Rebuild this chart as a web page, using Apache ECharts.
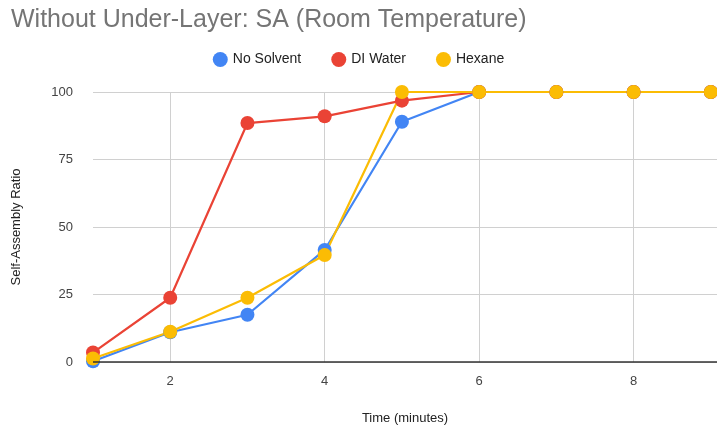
<!DOCTYPE html>
<html>
<head>
<meta charset="utf-8">
<script src="https://cdn.jsdelivr.net/npm/echarts@6/dist/echarts.min.js"></script>
<style>
  html, body { margin: 0; padding: 0; background: #fff; }
  #chart { width: 717px; height: 431px; }
</style>
</head>
<body>
<div id="chart"></div>
<script>
// Time in minutes
const minutes = [1, 2, 3, 4, 5, 6, 7, 8, 9];
// Self-assembly ratio per solvent condition
const noSolvent = [0.3, 11, 17.5, 41.5, 89, 100, 100, 100, 100];
const diWater = [3.5, 23.8, 88.5, 91, 96.8, 100, 100, 100, 100];
const hexane = [1.3, 11.2, 23.8, 39.6, 100, 100, 100, 100, 100];
const xTicks = [2, 4, 6, 8];
const yTicks = [0, 25, 50, 75, 100];

const pairs = (ys) => minutes.map((m, i) => [m, ys[i]]);
const font = 'Liberation Sans, Arial, sans-serif';

const makeSeries = (name, color, ys) => ({
  name, type: 'line', data: pairs(ys),
  symbol: 'circle', symbolSize: 14,
  lineStyle: { width: 2.2, color }, itemStyle: { color },
  emphasis: { disabled: true }, animation: false, clip: false
});

const chart = echarts.init(document.getElementById('chart'));
chart.setOption({
  animation: false,
  title: {
    text: 'Without Under-Layer: SA (Room Temperature)',
    left: 6, top: 3,
    textStyle: { fontFamily: font, fontSize: 25, fontWeight: 'normal', color: '#757575' }
  },
  legend: {
    top: 47, left: 'center',
    icon: 'circle', itemWidth: 15, itemHeight: 15, itemGap: 30,
    textStyle: { fontFamily: font, fontSize: 14, color: '#222' },
    data: ['No Solvent', 'DI Water', 'Hexane']
  },
  grid: { left: 93, right: 0, top: 92, bottom: 69, containLabel: false },
  xAxis: {
    type: 'value', min: 1, max: 9.08,
    name: 'Time (minutes)', nameLocation: 'middle', nameGap: 50,
    nameTextStyle: { fontFamily: font, fontSize: 13, color: '#222' },
    axisLine: { show: false },
    axisTick: { show: false, customValues: xTicks },
    axisLabel: { customValues: xTicks, margin: 13, fontFamily: font, fontSize: 13, color: '#444' },
    splitLine: { show: true, lineStyle: { color: '#d0d0d0', width: 1 } }
  },
  yAxis: {
    type: 'value', min: 0, max: 100, interval: 25,
    name: 'Self-Assembly Ratio', nameLocation: 'middle', nameGap: 70,
    nameTextStyle: { fontFamily: font, fontSize: 13, color: '#222' },
    axisLine: { show: false }, axisTick: { show: false },
    axisLabel: { margin: 20, fontFamily: font, fontSize: 13, color: '#444' },
    splitLine: { lineStyle: { color: '#d0d0d0', width: 1 } }
  },
  series: [
    makeSeries('No Solvent', '#4285f4', noSolvent),
    makeSeries('DI Water', '#ea4335', diWater),
    makeSeries('Hexane', '#fbbc04', hexane),
    {
      type: 'line', silent: true, data: [],
      markLine: {
        silent: true, symbol: 'none', label: { show: false },
        lineStyle: { color: '#333', width: 1.5, type: 'solid' },
        data: [{ yAxis: yTicks[0] }]
      }
    }
  ]
});
</script>
</body>
</html>
